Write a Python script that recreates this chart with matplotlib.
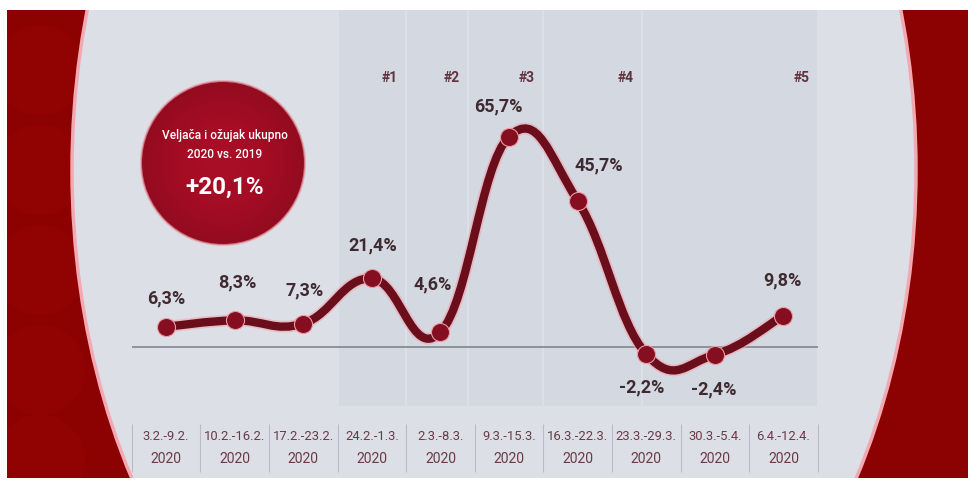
import matplotlib
matplotlib.use("Agg")
import matplotlib.pyplot as plt
import matplotlib.patheffects as pe
from matplotlib.patches import Ellipse, Circle, Rectangle, PathPatch
from matplotlib.path import Path
from matplotlib.colors import LinearSegmentedColormap
import numpy as np

# data
weeks = ["3.2.-9.2.", "10.2.-16.2.", "17.2.-23.2.", "24.2.-1.3.", "2.3.-8.3.",
         "9.3.-15.3.", "16.3.-22.3.", "23.3.-29.3.", "30.3.-5.4.", "6.4.-12.4."]
year = "2020"
growth = [6.3, 8.3, 7.3, 21.4, 4.6, 65.7, 45.7, -2.2, -2.4, 9.8]
period_names = ["#1", "#2", "#3", "#4", "#5"]
period_edges = [2.5, 3.5, 4.4, 5.5, 6.94, 9.5]
total_title = ["Veljača i ožujak ukupno", "2020 vs. 2019"]
total_value = 20.1

W, H = 968, 483
plt.rcParams['font.family'] = ['Roboto', 'DejaVu Sans']

fig = plt.figure(figsize=(W / 100, H / 100), dpi=100)
fig.patch.set_facecolor('white')

# background in pixel coordinates
bg = fig.add_axes([0, 0, 1, 1])
bg.set_xlim(0, W)
bg.set_ylim(H, 0)
bg.axis('off')

red = Rectangle((7, 10), W - 7, 468, facecolor='#8c0202', edgecolor='none')
bg.add_patch(red)
for cy in [70, 170, 270, 370, 460]:
    c = Circle((40, cy), 45, facecolor='#960505', edgecolor='none', alpha=0.5)
    bg.add_patch(c)
    c.set_clip_path(red)

oval = Ellipse((494, 170), 844, 1202, facecolor='#dcdfe6', edgecolor='#f3a9b2', lw=2.5)
bg.add_patch(oval)
oval.set_clip_path(red)

# red bubble
cx, cy, r = 223, 163, 82
yy, xx = np.mgrid[-1:1:200j, -1:1:200j]
grad = np.clip(1 - np.sqrt(xx**2 + yy**2), 0, 1)
cmap = LinearSegmentedColormap.from_list('bub', ['#930b20', '#a50d24', '#aa0f26'])
im = bg.imshow(grad, cmap=cmap, extent=(cx - r, cx + r, cy + r, cy - r), zorder=3)
im.set_clip_path(Circle((cx, cy), r, transform=bg.transData))
bg.add_patch(Circle((cx, cy), r, facecolor='none', edgecolor='#e7a0aa', lw=1.5, alpha=0.7, zorder=4))
bg.text(cx + 2, 135, total_title[0], color='white', fontsize=8.6, fontweight='medium',
        ha='center', va='center', zorder=5)
bg.text(cx + 2, 155, total_title[1], color='white', fontsize=8.6, fontweight='medium',
        ha='center', va='center', zorder=5)
bg.text(cx + 2, 187, "+" + f"{total_value:.1f}".replace('.', ',') + "%", color='white',
        fontsize=17.5, fontweight='bold', ha='center', va='center', zorder=5)

# chart axes
ax = fig.add_axes([131.7 / W, 1 - 410 / H, 686 / W, 400 / H])
ax.set_xlim(-0.5, 9.5)
ax.set_ylim(-19.7, 105.3)
ax.patch.set_alpha(0)
ax.axis('off')

xt = ax.get_xaxis_transform()
for i, name in enumerate(period_names):
    a, b = period_edges[i], period_edges[i + 1]
    ax.axvspan(a + 0.015, b - 0.015, ymin=0.01, ymax=1, color='#d4d8e0', lw=0, zorder=0)
    ax.text(b - 0.12, 0.83, name, transform=xt, ha='right', va='center',
            fontsize=10, fontweight='bold', color='#5e3440')

ax.axhline(0, color='#8d939c', lw=1.4, zorder=1)

# smooth curve through the points (cardinal spline drawn as bezier segments)
x = np.arange(len(growth))
pts = np.column_stack([x, growth]).astype(float)
ext = np.vstack([pts[0], pts, pts[-1]])
verts = [pts[0]]
codes = [Path.MOVETO]
t = 1.25 / 6
for k in range(len(pts) - 1):
    p0, p1, p2, p3 = ext[k], ext[k + 1], ext[k + 2], ext[k + 3]
    verts += [p1 + (p2 - p0) * t, p2 - (p3 - p1) * t, p2]
    codes += [Path.CURVE4] * 3
curve = PathPatch(Path(verts, codes), facecolor='none', edgecolor='#6a0e1b', lw=6,
                  capstyle='round', joinstyle='round', zorder=3,
                  path_effects=[pe.Stroke(linewidth=8.5, foreground='#f0a3ad', alpha=0.55), pe.Normal()])
ax.add_patch(curve)
ax.plot(x, growth, 'o', ms=13, color='#850e20', mec='#e99aa5', mew=0.8, zorder=4)

offsets = [(0, 28), (3, 38), (1, 33), (1, 33), (-8, 48), (-11, 30), (21, 35), (-5, -33), (-1, -35), (-1, 35)]
for i, v in enumerate(growth):
    ax.annotate(f"{v:.1f}".replace('.', ',') + "%", (i, v), xytext=offsets[i],
                textcoords='offset pixels', ha='center', va='center',
                fontsize=13, fontweight='bold', color='#3f2a31', zorder=5)

# week labels
for i, w in enumerate(weeks):
    ax.text(i, (410 - 437) / 400, w, transform=xt, ha='center', va='center',
            fontsize=9.4, color='#6b3a45', clip_on=False)
    ax.text(i, (410 - 459) / 400, year, transform=xt, ha='center', va='center',
            fontsize=10, color='#6b3a45', clip_on=False)
ax.vlines(np.arange(-0.5, 10, 1), (410 - 424) / 400, (410 - 472) / 400, transform=xt,
          color='#b9bcc4', lw=0.8, clip_on=False)

fig.savefig('out.png', dpi=100)
